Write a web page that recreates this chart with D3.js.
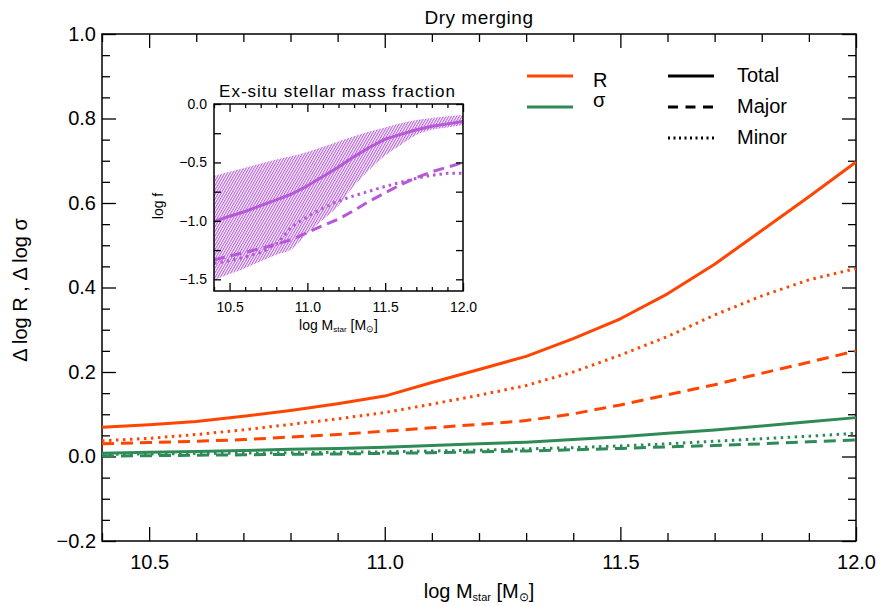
<!DOCTYPE html>
<html><head><meta charset="utf-8">
<script src="https://cdn.jsdelivr.net/npm/d3@7"></script>
<style>body{margin:0;background:#fff} text{font-family:"Liberation Sans",Arial,sans-serif;fill:#000}</style>
</head><body><svg id="c" width="881" height="606"></svg>
<script>
// ---------------- data ----------------
const mass = [10.4,10.5,10.6,10.7,10.8,10.9,11.0,11.1,11.2,11.3,11.4,11.5,11.6,11.7,11.8,11.9,12.0];
// Delta log R (orange)
const rTotal = [0.069,0.075,0.083,0.095,0.109,0.125,0.143,0.175,0.206,0.237,0.279,0.326,0.385,0.455,0.535,0.615,0.697];
const rMajor = [0.030,0.033,0.036,0.040,0.046,0.052,0.060,0.068,0.076,0.085,0.101,0.122,0.146,0.170,0.197,0.223,0.250];
const rMinor = [0.037,0.043,0.052,0.063,0.076,0.089,0.104,0.124,0.145,0.168,0.200,0.240,0.284,0.335,0.380,0.418,0.445];
// Delta log sigma (green)
const sTotal = [0.0075,0.010,0.012,0.014,0.017,0.019,0.022,0.026,0.030,0.034,0.040,0.047,0.055,0.063,0.072,0.082,0.092];
const sMajor = [0.001,0.002,0.003,0.004,0.005,0.006,0.0075,0.009,0.011,0.013,0.016,0.019,0.023,0.026,0.030,0.035,0.039];
const sMinor = [0.005,0.006,0.007,0.008,0.009,0.010,0.011,0.013,0.015,0.018,0.021,0.025,0.030,0.036,0.042,0.048,0.055];
// inset: log ex-situ fraction
const fMedian = [-1.007,-0.96,-0.92,-0.87,-0.82,-0.77,-0.70,-0.62,-0.54,-0.45,-0.37,-0.30,-0.26,-0.22,-0.19,-0.17,-0.15];
const fUpper  = [-0.616,-0.58,-0.545,-0.51,-0.475,-0.445,-0.41,-0.365,-0.32,-0.275,-0.235,-0.20,-0.165,-0.137,-0.12,-0.105,-0.094];
const fLower  = [-1.505,-1.455,-1.405,-1.345,-1.29,-1.24,-1.106,-0.99,-0.87,-0.70,-0.56,-0.44,-0.35,-0.265,-0.22,-0.20,-0.18];
const fMajor  = [-1.334,-1.30,-1.27,-1.235,-1.20,-1.16,-1.10,-1.04,-0.985,-0.91,-0.83,-0.76,-0.69,-0.63,-0.58,-0.54,-0.502];
const fMinor  = [-1.363,-1.34,-1.31,-1.27,-1.20,-1.05,-0.964,-0.89,-0.83,-0.785,-0.745,-0.705,-0.67,-0.636,-0.61,-0.593,-0.593];
// ticks
const xMajor = [10.5,11.0,11.5,12.0];
const xMinor = [10.4,10.6,10.7,10.8,10.9,11.1,11.2,11.3,11.4,11.6,11.7,11.8,11.9];
const yMajor = [-0.2,0.0,0.2,0.4,0.6,0.8,1.0];
const yMinor = [-0.15,-0.1,-0.05,0.05,0.1,0.15,0.25,0.3,0.35,0.45,0.5,0.55,0.65,0.7,0.75,0.85,0.9,0.95];
const iyTicks = [-1.5,-1.25,-1.0,-0.75,-0.5,-0.25,0.0];
const iyLabels = [-1.5,-1.0,-0.5,0.0];

const ORANGE = "#ff4500", GREEN = "#2e8b57", PURPLE = "#b658d8";
const DASH = "12,7", DOT = "2.5,4.5";

const svg = d3.select("#c");
const defs = svg.append("defs");
const pat = defs.append("pattern").attr("id","hatch").attr("patternUnits","userSpaceOnUse")
  .attr("width",2.3).attr("height",4).attr("patternTransform","rotate(30)");
pat.append("line").attr("x1",0.6).attr("y1",0).attr("x2",0.6).attr("y2",4).attr("stroke",PURPLE).attr("stroke-width",1.1);

// ---------------- main plot ----------------
const L=102,R=856,T=34,B=541;
const x = d3.scaleLinear([10.4,12.0],[L,R]);
const y = d3.scaleLinear([-0.2,1.0],[B,T]);

function styleAxis(g, fs){
  g.select(".domain").remove();
  g.selectAll("line").attr("stroke","#000").attr("stroke-width",1.3);
  g.selectAll("text").style("font-size",fs+"px");
}
const fmt = d3.format(".1f");
svg.append("g").attr("transform",`translate(0,${B})`)
  .call(d3.axisBottom(x).tickValues(xMajor).tickSize(-14).tickPadding(14).tickFormat(fmt)).call(styleAxis,20);
svg.append("g").attr("transform",`translate(0,${B})`)
  .call(d3.axisBottom(x).tickValues(xMinor).tickSize(-8).tickFormat("")).call(styleAxis,20);
svg.append("g").attr("transform",`translate(0,${T})`)
  .call(d3.axisTop(x).tickValues(xMajor).tickSize(-14).tickFormat("")).call(styleAxis,20);
svg.append("g").attr("transform",`translate(0,${T})`)
  .call(d3.axisTop(x).tickValues(xMinor).tickSize(-8).tickFormat("")).call(styleAxis,20);
svg.append("g").attr("transform",`translate(${L},0)`)
  .call(d3.axisLeft(y).tickValues(yMajor).tickSize(-14).tickPadding(6).tickFormat(fmt)).call(styleAxis,20);
svg.append("g").attr("transform",`translate(${L},0)`)
  .call(d3.axisLeft(y).tickValues(yMinor).tickSize(-8).tickFormat("")).call(styleAxis,20);
svg.append("g").attr("transform",`translate(${R},0)`)
  .call(d3.axisRight(y).tickValues(yMajor).tickSize(-14).tickFormat("")).call(styleAxis,20);
svg.append("g").attr("transform",`translate(${R},0)`)
  .call(d3.axisRight(y).tickValues(yMinor).tickSize(-8).tickFormat("")).call(styleAxis,20);
svg.append("rect").attr("x",L).attr("y",T).attr("width",R-L).attr("height",B-T)
  .attr("fill","none").attr("stroke","#000").attr("stroke-width",1.5);

const line = d3.line().x((d,i)=>x(mass[i])).y(d=>y(d));
const mainSeries = [
  {v:sMajor,c:GREEN,d:DASH},{v:sMinor,c:GREEN,d:DOT},{v:sTotal,c:GREEN,d:null},
  {v:rMajor,c:ORANGE,d:DASH},{v:rMinor,c:ORANGE,d:DOT},{v:rTotal,c:ORANGE,d:null}
];
mainSeries.forEach(s=>{
  svg.append("path").attr("d",line(s.v)).attr("fill","none").attr("stroke",s.c)
    .attr("stroke-width",3).attr("stroke-linejoin","round").attr("stroke-dasharray",s.d);
});

// titles
svg.append("text").attr("x",(L+R)/2).attr("y",24).attr("text-anchor","middle")
  .style("font-size","19px").style("letter-spacing","0.5px").text("Dry merging");
const xl = svg.append("text").attr("x",(L+R)/2).attr("y",598).attr("text-anchor","middle").style("font-size","20px");
xl.append("tspan").text("log M");
xl.append("tspan").attr("font-size","11px").attr("dy",3).text("star");
xl.append("tspan").attr("dy",-3).text(" [M");
xl.append("tspan").attr("font-size","12px").attr("dy",3).text("⊙");
xl.append("tspan").attr("dy",-3).text("]");
svg.append("text").attr("transform","translate(27,290) rotate(-90)").attr("text-anchor","middle")
  .style("font-size","20px").text("Δ log R , Δ log σ");

// legend
const legA = [{t:"R",c:ORANGE,y:76},{t:"σ",c:GREEN,y:107}];
legA.forEach(d=>{
  svg.append("line").attr("x1",527).attr("x2",573).attr("y1",d.y).attr("y2",d.y).attr("stroke",d.c).attr("stroke-width",3);
  svg.append("text").attr("x",593).attr("y",d.y+(d.t==="R"?11:0)).style("font-size","20px").text(d.t);
});
const legB = [{t:"Total",d:null,y:76},{t:"Major",d:"10,7.5",y:107},{t:"Minor",d:"2,3.5",y:138}];
legB.forEach(d=>{
  svg.append("line").attr("x1",668).attr("x2",714).attr("y1",d.y).attr("y2",d.y).attr("stroke","#000")
    .attr("stroke-width",3).attr("stroke-dasharray",d.d);
  svg.append("text").attr("x",737).attr("y",d.y+6).style("font-size","20px").text(d.t);
});

// ---------------- inset ----------------
const iL=214,iR=463,iT=104,iB=291;
const x2 = d3.scaleLinear([10.4,12.0],[iL,iR]);
const y2 = d3.scaleLinear([-1.6,0.0],[iB,iT]);
svg.append("rect").attr("x",iL).attr("y",iT).attr("width",iR-iL).attr("height",iB-iT).attr("fill","#fff");
defs.append("clipPath").attr("id","ic").append("rect").attr("x",iL).attr("y",iT).attr("width",iR-iL).attr("height",iB-iT);
const ig = svg.append("g").attr("clip-path","url(#ic)");
const area = d3.area().curve(d3.curveMonotoneX).x((d,i)=>x2(mass[i])).y0((d,i)=>y2(fLower[i])).y1(d=>y2(d));
ig.append("path").attr("d",area(fUpper)).attr("fill","url(#hatch)");
const line2 = d3.line().x((d,i)=>x2(mass[i])).y(d=>y2(d));
[{v:fMinor,d:"2.5,4"},{v:fMajor,d:"11,6"},{v:fMedian,d:null}].forEach(s=>{
  ig.append("path").attr("d",line2(s.v)).attr("fill","none").attr("stroke",PURPLE)
    .attr("stroke-width",3).attr("stroke-linejoin","round").attr("stroke-dasharray",s.d);
});
const ifmt = d3.format(".1f");
svg.append("g").attr("transform",`translate(0,${iB})`)
  .call(d3.axisBottom(x2).tickValues(xMajor).tickSize(-8).tickPadding(11).tickFormat(ifmt)).call(styleAxis,14);
svg.append("g").attr("transform",`translate(0,${iB})`)
  .call(d3.axisBottom(x2).tickValues(xMinor).tickSize(-4).tickFormat("")).call(styleAxis,14);
svg.append("g").attr("transform",`translate(0,${iT})`)
  .call(d3.axisTop(x2).tickValues(xMajor).tickSize(-8).tickFormat("")).call(styleAxis,14);
svg.append("g").attr("transform",`translate(0,${iT})`)
  .call(d3.axisTop(x2).tickValues(xMinor).tickSize(-4).tickFormat("")).call(styleAxis,14);
svg.append("g").attr("transform",`translate(${iL},0)`)
  .call(d3.axisLeft(y2).tickValues(iyTicks).tickSize(-7).tickPadding(7)
    .tickFormat(d=>iyLabels.includes(d)?ifmt(d):"")).call(styleAxis,14);
svg.append("g").attr("transform",`translate(${iR},0)`)
  .call(d3.axisRight(y2).tickValues(iyTicks).tickSize(-7).tickFormat("")).call(styleAxis,14);
svg.append("rect").attr("x",iL).attr("y",iT).attr("width",iR-iL).attr("height",iB-iT)
  .attr("fill","none").attr("stroke","#000").attr("stroke-width",1.5);
svg.append("text").attr("x",(iL+iR)/2-1).attr("y",97).attr("text-anchor","middle")
  .style("font-size","17px").style("letter-spacing","1px").text("Ex-situ stellar mass fraction");
const ixl = svg.append("text").attr("x",(iL+iR)/2).attr("y",330).attr("text-anchor","middle").style("font-size","14px");
ixl.append("tspan").text("log M");
ixl.append("tspan").attr("font-size","8px").attr("dy",2).text("star");
ixl.append("tspan").attr("dy",-2).text(" [M");
ixl.append("tspan").attr("font-size","9px").attr("dy",2).text("⊙");
ixl.append("tspan").attr("dy",-2).text("]");
svg.append("text").attr("transform","translate(163,206) rotate(-90)").attr("text-anchor","middle")
  .style("font-size","14px").text("log f");
</script></body></html>
